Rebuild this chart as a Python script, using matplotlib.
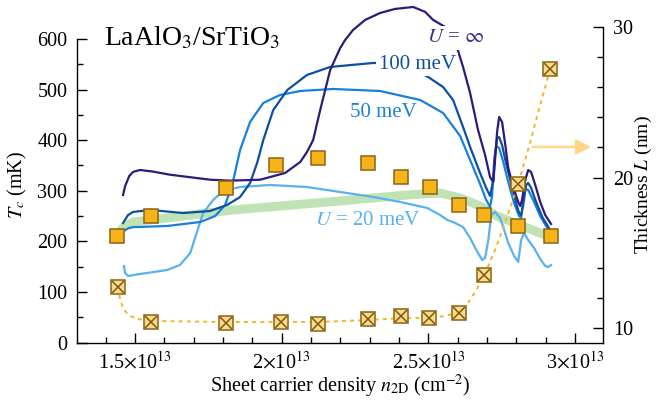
import matplotlib
matplotlib.use('Agg')
import matplotlib.pyplot as plt
from matplotlib.ticker import FixedLocator, MultipleLocator, FixedFormatter

plt.rcParams['font.family'] = ['Liberation Serif', 'DejaVu Serif']
plt.rcParams['mathtext.fontset'] = 'stix'

# ---------------- data (density in units of 1e13 cm^-2) ----------------
n_inf = [1.459, 1.466, 1.480, 1.493, 1.503, 1.517, 1.56, 1.619, 1.756, 1.824, 1.926, 2.011, 2.063,
         2.086, 2.107, 2.131, 2.165, 2.199, 2.216, 2.243, 2.284, 2.335, 2.386, 2.448,
         2.489, 2.516, 2.557, 2.598, 2.618,
         2.642, 2.669, 2.693, 2.710, 2.721, 2.727, 2.734, 2.741, 2.751, 2.762, 2.772,
         2.789, 2.806, 2.813, 2.819, 2.830, 2.840, 2.850, 2.864, 2.881, 2.898, 2.918]
tc_inf = [291.6, 309.3, 329, 337, 339, 341, 338, 331.7, 321.8, 320, 321.8, 335, 356.8,
          376.6, 400.3, 459.6, 538.7, 582, 598, 617.8, 637.6, 651.4, 659.4, 663.3,
          653.5, 637.6, 623.8, 582, 544.7,
          493.3, 420.1, 370.7, 327, 317.3, 360.8, 416.2, 445.8, 435.9, 390.4, 345,
          307.4, 277.8, 269.9, 281.7, 321.2, 341, 337, 311.4, 277.8, 252.1, 234.3]

n_100 = [1.459, 1.476, 1.493, 1.551, 1.664, 1.756, 1.814, 1.858, 1.892, 1.916, 1.937,
         1.971, 2.019, 2.086, 2.165, 2.311, 2.404, 2.499, 2.550, 2.584, 2.618, 2.642,
         2.676, 2.697, 2.710, 2.721, 2.727, 2.734, 2.741, 2.751, 2.762, 2.779, 2.796,
         2.809, 2.816, 2.823, 2.833, 2.840, 2.850, 2.867, 2.888, 2.915]
tc_100 = [236.2, 252, 258, 262, 256, 260, 272, 287.7, 315.4, 355, 400.3,
          459.6, 499.2, 528.9, 544.7, 552.6, 552.6, 524.9, 505, 479.4, 426, 386.5,
          335, 305.4, 289.7, 321, 370.7, 404.3, 406, 390.4, 360.8, 321.2, 281.7,
          256, 252, 272, 311.4, 315.4, 305.4, 277.8, 248.1, 222.4]

n_50 = [1.466, 1.478, 1.493, 1.609, 1.722, 1.773, 1.807, 1.831, 1.858, 1.892, 1.937,
        1.994, 2.063, 2.175, 2.335, 2.472, 2.550, 2.608, 2.642, 2.676, 2.697, 2.710,
        2.717, 2.724, 2.731, 2.741, 2.755, 2.772, 2.792, 2.809, 2.816, 2.823, 2.830,
        2.840, 2.857, 2.881, 2.901, 2.915]
tc_50 = [222.4, 226, 228, 230.3, 238.2, 250, 272, 311.4, 380.6, 436, 473.5,
         489.3, 497.2, 501.2, 497.2, 479.4, 453.7, 408.3, 360.8, 313.4, 281.7, 267.9,
         289.7, 360.8, 388.5, 384.5, 356.8, 317.3, 275.8, 250, 246.2, 281.7, 303.5,
         301.5, 281.7, 250, 230.3, 220.4]

n_20 = [1.462, 1.466, 1.476, 1.517, 1.609, 1.653, 1.688, 1.711, 1.732, 1.766, 1.800,
        1.858, 1.960, 2.086, 2.199, 2.311, 2.404, 2.496, 2.540, 2.564, 2.584, 2.618,
        2.642, 2.663, 2.683, 2.693, 2.704, 2.714, 2.727, 2.744, 2.755, 2.772, 2.792,
        2.806, 2.816, 2.826, 2.840, 2.860, 2.881, 2.898, 2.908, 2.918]
tc_20 = [151, 137.4, 131.5, 135.4, 143.3, 153.2, 177, 218.5, 256, 281.7, 299.5,
         307.4, 311.4, 307.4, 297.5, 287.7, 277.8, 265.9, 252, 242.2, 238.2, 228.3,
         206.6, 182.9, 163.1, 167, 202.6, 252, 258, 246.2, 228.3, 196.7, 171,
         159.2, 202.6, 216.5, 202.6, 186.8, 165.1, 151.2, 149.3, 153.2]

n_band = [1.442, 1.466, 1.493, 1.609, 1.834, 2.199, 2.427, 2.540, 2.608, 2.676,
          2.734, 2.802, 2.871, 2.918]
tc_band = [216.5, 230.3, 238.2, 246.2, 262, 279.8, 291.6, 295.6, 285.7, 269.9,
           250, 234.3, 218.5, 208.6]

n_exp = [1.439, 1.555, 1.81, 1.98, 2.124, 2.295, 2.407, 2.506, 2.605, 2.69, 2.806, 2.918]
tc_exp = [210, 250, 305, 350, 365, 355, 327, 307, 272, 252, 230, 210]

n_thick = [1.442, 1.555, 1.81, 1.998, 2.124, 2.294, 2.407, 2.502, 2.605, 2.69, 2.806, 2.915]
L_thick = [12.72, 10.42, 10.33, 10.40, 10.27, 10.60, 10.80, 10.66, 11.0, 13.5, 19.57, 27.2]

n_guide = [1.442, 1.449, 1.462, 1.483, 1.510, 1.555, 1.810, 1.998, 2.124, 2.294, 2.407,
           2.502, 2.557, 2.605, 2.635, 2.663, 2.690, 2.727, 2.762, 2.806, 2.847, 2.881, 2.915]
L_guide = [12.72, 11.86, 11.20, 10.80, 10.60, 10.47, 10.40, 10.40, 10.40, 10.53, 10.66,
           10.66, 10.80, 11.06, 11.66, 12.52, 13.52, 15.18, 17.04, 19.57, 22.36, 24.82, 27.21]

x_ticks = [1.5, 2.0, 2.5, 3.0]
x_ticklabels = [r'1.5$\times$10$^{13}$', r'2$\times$10$^{13}$',
                r'2.5$\times$10$^{13}$', r'3$\times$10$^{13}$']

# ---------------- figure ----------------
W, H = 656, 403
fig = plt.figure(figsize=(W / 100, H / 100), dpi=100)
ax = fig.add_axes([77 / W, 1 - 342.5 / H, (603 - 77) / W, (342.5 - 27) / H])
ax2 = ax.twinx()

c_inf = '#2e1a7a'
c_100 = '#0c4fa3'
c_50 = '#1880dc'
c_20 = '#58b2f2'

ax.plot(n_band, tc_band, color='#c0e3b5', lw=6.5, solid_capstyle='round', zorder=1)
ax.plot(n_20, tc_20, color=c_20, lw=1.6, zorder=2)
ax.plot(n_50, tc_50, color=c_50, lw=1.6, zorder=3)
ax.plot(n_100, tc_100, color=c_100, lw=1.6, zorder=4)
ax.plot(n_inf, tc_inf, color=c_inf, lw=1.6, zorder=5, clip_on=False)
ax.plot(n_exp, tc_exp, ls='none', marker='s', ms=10, mfc='#f6b31a', mec='#8a6412',
        mew=1.1, zorder=8)

ax.text(2.591, 602, r'$U$ = $\infty$', color='#3f2d8c', fontsize=15, ha='center', va='center',
        bbox=dict(facecolor='white', edgecolor='none', pad=2.0), zorder=6)
ax.text(2.461, 549, '100 meV', color=c_100, fontsize=15, ha='center', va='center',
        bbox=dict(facecolor='white', edgecolor='none', pad=1.5), zorder=6)
ax.text(2.346, 454, '50 meV', color=c_50, fontsize=15, ha='center', va='center', zorder=6)
ax.text(2.294, 242, r'$U$ = 20 meV', color=c_20, fontsize=15, ha='center', va='center', zorder=6)
ax.text(1.395, 601, r'LaAlO$_3$/SrTiO$_3$', fontsize=20, ha='left', va='center', zorder=6)

ax.set_xlim(1.302, 3.095)
ax.set_ylim(0, 623.7)
ax2.set_ylim(9.037, 30)

ax2.plot(n_guide, L_guide, color='#f5b326', lw=1.4, ls=(0, (2, 2.2)), zorder=3)
ax2.plot(n_thick, L_thick, ls='none', marker='s', ms=10, mfc='#fbd98d', mec='#8a6412',
         mew=1.1, zorder=4)
ax2.plot(n_thick, L_thick, ls='none', marker='x', ms=9, mec='#7a5a10', mew=1.1, zorder=5)

ax2.annotate('', xy=(3.055, 22.03), xytext=(2.855, 22.03),
             arrowprops=dict(arrowstyle='-|>,head_length=0.9,head_width=0.45',
                             color='#fdd68c', lw=1.8, shrinkA=0, shrinkB=0))

for s in ['top', 'right']:
    ax.spines[s].set_visible(False)
for s in ['top', 'left', 'bottom']:
    ax2.spines[s].set_visible(False)
ax.spines['left'].set_bounds(0, 600)
for a in (ax, ax2):
    for s in a.spines.values():
        s.set_linewidth(1.0)

ax.xaxis.set_major_locator(FixedLocator(x_ticks))
ax.xaxis.set_major_formatter(FixedFormatter(x_ticklabels))
ax.xaxis.set_minor_locator(MultipleLocator(0.1))
ax.set_yticks([0, 100, 200, 300, 400, 500, 600])
ax.yaxis.set_minor_locator(MultipleLocator(50))
ax2.yaxis.set_major_locator(FixedLocator([10, 20, 30]))
ax2.yaxis.set_minor_locator(FixedLocator([12, 14, 16, 18, 22, 24, 26, 28]))

ax.tick_params(which='both', direction='in', labelsize=14.5)
ax.tick_params(which='major', length=7, width=1.0)
ax.tick_params(which='minor', length=4, width=1.0)
ax.tick_params(axis='y', which='both', right=False, pad=7)
ax.tick_params(axis='x', which='both', top=False, pad=6)
ax2.tick_params(which='both', direction='in', labelsize=14.5, pad=7)
ax2.tick_params(which='major', length=7, width=1.0)
ax2.tick_params(which='minor', length=4, width=1.0)

ax.set_xlabel(r'Sheet carrier density $n_{\mathrm{2D}}$ (cm$^{-2}$)', fontsize=14.5, labelpad=0)
ax.set_ylabel(r'$T_c$ (mK)', fontsize=14.5, labelpad=6)
ax2.set_ylabel(r'Thickness $L$ (nm)', fontsize=14, labelpad=0)

fig.savefig('out.png', dpi=100)
